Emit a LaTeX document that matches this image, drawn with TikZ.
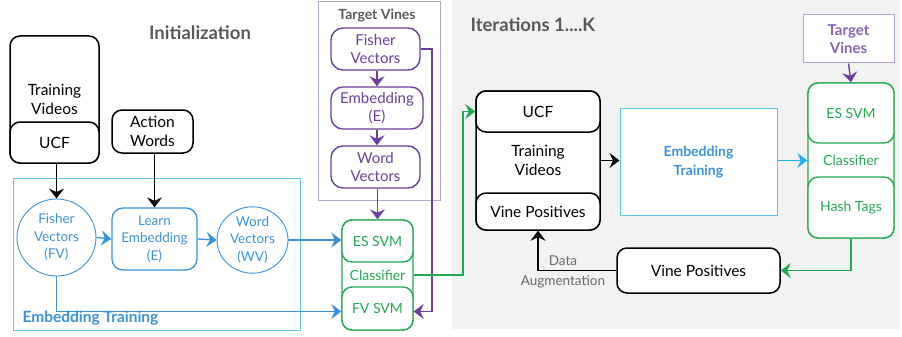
\documentclass[tikz,border=0pt]{standalone}
\usepackage{fontspec}
\setmainfont{Lato}
\usetikzlibrary{arrows.meta,shapes.geometric,calc}
\definecolor{bgray}{HTML}{F2F2F2}
\definecolor{tgray}{HTML}{595959}
\definecolor{eblue}{HTML}{3A92DA}
\definecolor{lcyan}{HTML}{5AC6F2}
\definecolor{cyanarr}{HTML}{1EB2F0}
\definecolor{vpurple}{HTML}{6B3FA0}
\definecolor{lpurple}{HTML}{B9A3D3}
\definecolor{tpurple}{HTML}{8A63B8}
\definecolor{vgreen}{HTML}{22AA52}
\tikzset{
  blk/.style={draw=black,line width=1.5pt,rounded corners=10pt,fill=white,inner sep=0pt,align=center,font=\fontsize{15.5}{19}\selectfont},
  pbox/.style={draw=vpurple,line width=1.4pt,rounded corners=12pt,fill=white,inner sep=0pt,align=center,text=vpurple,font=\fontsize{15}{18.5}\selectfont},
  gbx/.style={draw=vgreen,line width=1.4pt,rounded corners=10pt,fill=white,inner sep=0pt,align=center,text=vgreen,font=\fontsize{14}{17}\selectfont},
  bluenode/.style={draw=eblue,line width=0.9pt,inner sep=0pt,align=center,text=eblue,font=\fontsize{13.5}{17.5}\selectfont},
  tipstyle/.style={-{Stealth[length=10pt,width=15pt,inset=3.5pt]}},
  arrblk/.style={draw=black,line width=1.5pt,tipstyle},
  arrblue/.style={draw=eblue,line width=1.3pt,tipstyle},
  arrpur/.style={draw=vpurple,line width=1.4pt,tipstyle},
  arrgrn/.style={draw=vgreen,line width=1.4pt,tipstyle},
  arrcyan/.style={draw=cyanarr,line width=1.4pt,tipstyle},
  ttl/.style={text=tgray,font=\bfseries\fontsize{18.5}{22}\selectfont},
}
\begin{document}
\begin{tikzpicture}[x=1pt,y=-1pt]
\useasboundingbox (0,0) rectangle (902,337);
% gray background
\fill[bgray] (452,0) rectangle (900,329);
% titles
\node[ttl] (tinit) at (200,33) {Initialization};
\node[ttl,anchor=west] (titer) at (467,25) {Iterations 1....K};
% embedding training frame
\node[draw=lcyan,line width=0.9pt,minimum width=287pt,minimum height=152pt,inner sep=0pt] (etframe) at (156.5,254) {};
\node[anchor=west,text=eblue,font=\bfseries\fontsize{15.5}{18}\selectfont] (etlabel) at (19,318) {Embedding Training};
% target vines frame (left)
\node[draw=lpurple,line width=0.9pt,minimum width=122pt,minimum height=199pt,inner sep=0pt] (tvframe) at (379,100.5) {};
\node[text=tgray,font=\bfseries\fontsize{14}{16}\selectfont] (tvtitle) at (377,16) {Target Vines};
% left black boxes
\node[blk,minimum width=89pt,minimum height=127pt] (tv) at (54.5,99.5) {Training\\Videos};
\node[blk,minimum width=89pt,minimum height=41pt] (ucf) at (54.5,142.5) {UCF};
\node[blk,minimum width=81pt,minimum height=43pt] (aw) at (152.5,131.5) {Action\\Words};
% blue nodes
\node[bluenode,ellipse,minimum width=79pt,minimum height=77pt] (fv) at (56.5,237.5) {Fisher\\Vectors\\(FV)};
\node[bluenode,rounded corners=11pt,line width=1.3pt,minimum width=85pt,minimum height=62pt,fill=white] (le) at (154.5,239) {Learn\\Embedding\\(E)};
\node[bluenode,ellipse,minimum width=71pt,minimum height=61pt] (wv) at (252.5,240) {Word\\Vectors\\(WV)};
% purple boxes
\node[pbox,minimum width=89pt,minimum height=42pt] (fvp) at (375.5,49) {Fisher\\Vectors};
\node[pbox,minimum width=92pt,minimum height=42pt] (emb) at (377,108) {Embedding\\(E)};
\node[pbox,minimum width=89pt,minimum height=42pt] (wvp) at (375.5,167) {Word\\Vectors};
% green classifier left
\node[gbx,minimum width=71pt,minimum height=110pt] (cls) at (377.5,275) {Classifier};
\node[gbx,minimum width=71pt,minimum height=42pt] (essvm) at (377.5,241) {ES SVM};
\node[gbx,minimum width=71pt,minimum height=43pt] (fvsvm) at (377.5,308.5) {FV SVM};
% right big black box
\node[blk,minimum width=124pt,minimum height=139pt] (tvr) at (538,160.5) {Training\\Videos};
\node[blk,minimum width=124pt,minimum height=41pt] (ucfr) at (538,111.5) {UCF};
\node[blk,minimum width=124pt,minimum height=37pt] (vpin) at (538,211.5) {Vine Positives};
% embedding training right
\node[draw=lcyan,line width=1pt,fill=white,minimum width=157pt,minimum height=107pt,inner sep=0pt,align=center,text=eblue,font=\bfseries\fontsize{14}{19}\selectfont] (etr) at (698.5,162) {Embedding\\Training};
% target vines right
\node[draw=lpurple,line width=1pt,fill=white,minimum width=91pt,minimum height=48pt,inner sep=0pt,align=center,text=tpurple,font=\bfseries\fontsize{15}{17.5}\selectfont] (tvsm) at (848.5,39) {Target\\Vines};
% green box right
\node[gbx,minimum width=86pt,minimum height=155pt] (clsr) at (851,160.5) {Classifier};
\node[gbx,minimum width=86pt,minimum height=60pt] (esr) at (851,113) {ES SVM};
\node[gbx,minimum width=86pt,minimum height=61pt] (hash) at (851,207.5) {Hash Tags};
% vine positives bottom
\node[blk,minimum width=163pt,minimum height=45pt] (vp) at (698.5,270.5) {Vine Positives};
% connectors left
\draw[arrblk] (ucf.south -| fv.north) -- (fv.north);
\draw[arrblk] (aw.south -| le.north) -- (le.north);
\draw[arrblue] (fv.east) -- (le.west);
\draw[arrblue] (le.east) -- (wv.west);
\draw[arrblue] (wv.east) -- (wv.east -| essvm.west);
\draw[arrblue] (fv.south) |- ([yshift=-3pt]fvsvm.west);
\draw[arrpur] (fvp.south -| emb.north) -- (emb.north);
\draw[arrpur] (emb.south) -- (emb.south |- wvp.north);
\draw[arrpur] (wvp.south -| essvm.north) -- (essvm.north);
\coordinate (pturn) at (432,49);
\draw[arrpur] (fvp.east) -- (pturn) |- ([yshift=-3pt]fvsvm.east);
\coordinate (gturn) at (463,275);
\draw[arrgrn] (cls.east) -- (gturn) |- (ucfr.west);
% connectors right
\draw[arrblk] (tvr.east) -- (etr.west |- tvr.east);
\draw[arrcyan] (etr.east |- clsr.west) -- (clsr.west);
\draw[arrpur] (tvsm.south) -- (clsr.north);
\draw[arrgrn] (clsr.south) |- (vp.east);
\draw[arrblk] (vp.west) -| (vpin.south);
\node[text=tgray!90,align=center,font=\fontsize{13.5}{19.5}\selectfont] (daug) at (563,272) {Data\\Augmentation};
\end{tikzpicture}
\end{document}
